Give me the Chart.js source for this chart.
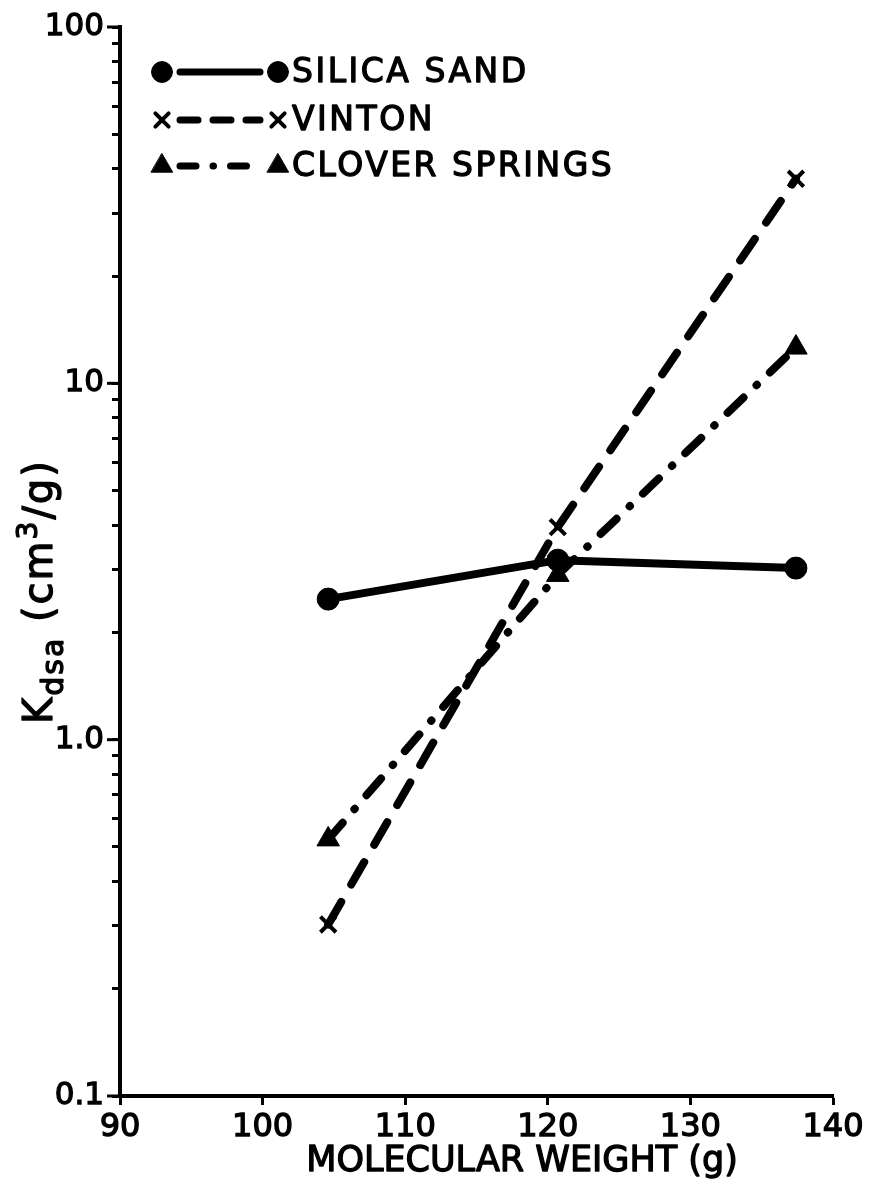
<!DOCTYPE html>
<html><head><meta charset="utf-8">
<script src="https://cdn.jsdelivr.net/npm/chart.js@4"></script>
<style>html,body{margin:0;padding:0;background:#fff}#wrap{width:878px;height:1186px;position:relative}</style>
</head><body><div id="wrap"><canvas id="c" width="878" height="1186"></canvas></div>
<script>
// ---- data ----
const molecularWeight = [104.6, 120.7, 137.4];
const silicaSand = [2.48, 3.19, 3.03];
const vinton = [0.303, 3.95, 37.5];
const cloverSprings = [0.525, 2.90, 12.6];
const seriesNames = ['SILICA SAND', 'VINTON', 'CLOVER SPRINGS'];
const xTicks = [90, 100, 110, 120, 130, 140];
const yMajorTicks = [0.1, 1, 10, 100];
const yMajorLabels = ['0.1', '1.0', '10', '100'];
const yMinorMultipliers = [2, 3, 4, 5, 6, 7, 8, 9];
const xTitle = 'MOLECULAR WEIGHT (g)';

const FONT = "'DejaVu Sans', 'Liberation Sans', Arial, sans-serif";
const STROKE = 1.3;
const yAllTicks = [];
yMajorTicks.forEach((d, i) => {
  yAllTicks.push(d);
  if (i < yMajorTicks.length - 1) yMinorMultipliers.forEach(m => yAllTicks.push(Number((m * d).toPrecision(3))));
});

const styles = [
  { pointStyle: 'circle', pointRadius: 11, pointBorderWidth: 1, borderDash: [], borderWidth: 8 },
  { pointStyle: 'crossRot', pointRadius: 11, pointBorderWidth: 4, borderDash: [26, 20], borderWidth: 8 },
  { pointStyle: 'triangle', pointRadius: 13, pointBorderWidth: 1, borderDash: [22, 18, 0.5, 18], borderWidth: 8 }
];
const legendDash = [[], [18, 15], [16, 17, 0.5, 17]];
const seriesValues = [silicaSand, vinton, cloverSprings];

const datasets = seriesValues.map((vals, i) => Object.assign({
  label: seriesNames[i],
  data: molecularWeight.map((x, j) => ({ x: x, y: vals[j] })),
  borderColor: '#000', backgroundColor: '#000',
  pointBackgroundColor: '#000', pointBorderColor: '#000',
  borderCapStyle: 'round', borderJoinStyle: 'round',
  fill: false, tension: 0
}, styles[i]));

function drawMarker(ctx, st, x, y, scale) {
  ctx.save();
  ctx.fillStyle = '#000'; ctx.strokeStyle = '#000';
  ctx.lineWidth = st.pointBorderWidth; ctx.lineCap = 'round';
  Chart.helpers.drawPoint(ctx, { pointStyle: st.pointStyle, radius: st.pointRadius * (scale || 1), borderWidth: st.pointBorderWidth, rotation: 0 }, x, y);
  ctx.restore();
}
function boldText(ctx, t, x, y) {
  ctx.lineWidth = STROKE; ctx.strokeStyle = '#000'; ctx.lineJoin = 'round';
  ctx.strokeText(t, x, y);
  ctx.fillText(t, x, y);
}

const annotatePlugin = {
  id: 'annot',
  afterDraw(chart) {
    const ctx = chart.ctx;
    const ys = chart.scales.y;
    const left = chart.chartArea.left;
    // longer major ticks
    ctx.save();
    ctx.strokeStyle = '#000'; ctx.lineWidth = 3;
    yMajorTicks.forEach(v => {
      const py = ys.getPixelForValue(v);
      ctx.beginPath(); ctx.moveTo(left - 13, py); ctx.lineTo(left, py); ctx.stroke();
    });
    ctx.restore();

    // legend
    const rows = [72, 120, 166];
    const x1 = 162, x2 = 278, tx = 292;
    rows.forEach((ry, i) => {
      const st = styles[i];
      ctx.save();
      ctx.strokeStyle = '#000'; ctx.lineWidth = 7; ctx.lineCap = 'round';
      ctx.setLineDash(legendDash[i]);
      ctx.beginPath(); ctx.moveTo(x1 + 18, ry); ctx.lineTo(x2 - 18, ry); ctx.stroke();
      ctx.restore();
      drawMarker(ctx, st, x1, ry, i === 1 ? 0.85 : 0.95);
      drawMarker(ctx, st, x2, ry, i === 1 ? 0.85 : 0.95);
      ctx.save();
      ctx.fillStyle = '#000';
      ctx.font = '33px ' + FONT;
      ctx.letterSpacing = '2.5px';
      ctx.textBaseline = 'middle'; ctx.textAlign = 'left';
      boldText(ctx, seriesNames[i], tx, ry + 1);
      ctx.restore();
    });

    // x title
    ctx.save();
    ctx.fillStyle = '#000';
    ctx.font = '35px ' + FONT;
    ctx.textAlign = 'center'; ctx.textBaseline = 'alphabetic';
    boldText(ctx, xTitle, 522, 1171);
    ctx.restore();

    // y title: K_dsa (cm^3/g)
    ctx.save();
    ctx.fillStyle = '#000';
    ctx.translate(40, 724);
    ctx.rotate(-Math.PI / 2);
    ctx.letterSpacing = '2px';
    ctx.textBaseline = 'alphabetic'; ctx.textAlign = 'left';
    let cx = 0;
    const parts = [
      { t: 'K', f: 40, dy: 12 },
      { t: 'dsa', f: 30, dy: 23 },
      { t: ' (cm', f: 40, dy: 12 },
      { t: '3', f: 28, dy: -3 },
      { t: '/g)', f: 40, dy: 12 }
    ];
    parts.forEach(p => {
      ctx.font = p.f + 'px ' + FONT;
      boldText(ctx, p.t, cx, p.dy);
      cx += ctx.measureText(p.t).width;
    });
    ctx.restore();
  }
};

new Chart(document.getElementById('c').getContext('2d'), {
  type: 'line',
  data: { datasets: datasets },
  options: {
    responsive: false, animation: false, devicePixelRatio: 1,
    layout: { padding: { top: 27, right: 45, left: 0, bottom: 0 } },
    plugins: { legend: { display: false }, tooltip: { enabled: false }, title: { display: false } },
    scales: {
      x: {
        type: 'linear', min: 90, max: 140,
        afterBuildTicks: s => { s.ticks = xTicks.map(v => ({ value: v })); },
        afterFit: s => { s.height = 90; },
        grid: { drawOnChartArea: false, tickLength: 9, tickWidth: 3, tickColor: '#000' },
        border: { color: '#000', width: 4 },
        ticks: { color: '#000', font: { family: FONT, size: 32 }, padding: 3, maxRotation: 0, autoSkip: false,
                 textStrokeColor: '#000', textStrokeWidth: STROKE,
                 callback: v => String(v) }
      },
      y: {
        type: 'logarithmic', min: 0.1, max: 100,
        afterBuildTicks: s => { s.ticks = yAllTicks.map(v => ({ value: v })); },
        afterFit: s => { s.width = 120; },
        grid: { drawOnChartArea: false, tickLength: 8, tickWidth: 3, tickColor: '#000' },
        border: { color: '#000', width: 4 },
        ticks: { color: '#000', font: { family: FONT, size: 31 }, padding: 8, autoSkip: false,
                 textStrokeColor: '#000', textStrokeWidth: STROKE,
                 callback: v => {
                   const k = yMajorTicks.findIndex(m => Math.abs(m - v) / m < 1e-6);
                   return k >= 0 ? yMajorLabels[k] : '';
                 } }
      }
    }
  },
  plugins: [annotatePlugin]
});
</script>
</body></html>
